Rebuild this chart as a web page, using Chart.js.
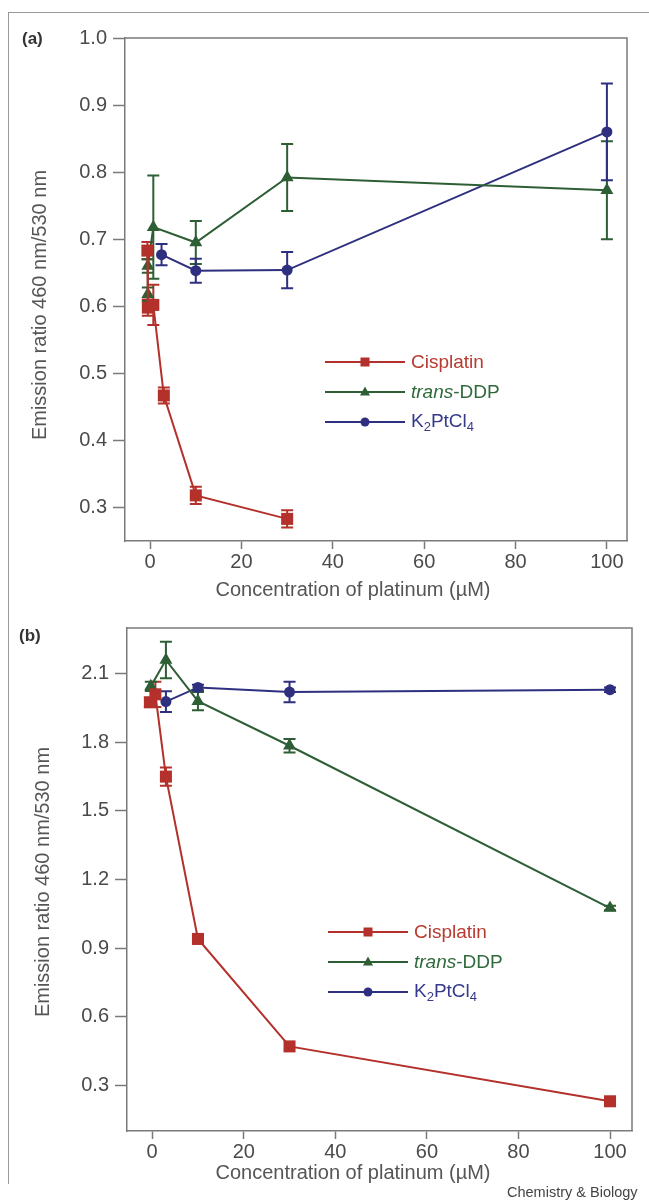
<!DOCTYPE html>
<html>
<head>
<meta charset="utf-8">
<script src="https://cdn.jsdelivr.net/npm/chart.js@4.4.1/dist/chart.umd.min.js"></script>
<style>
  body { margin: 0; background: #fff; font-family: "Liberation Sans", Arial, sans-serif; }
  #page { position: relative; width: 649px; height: 1203px; overflow: hidden; }
  canvas { position: absolute; left: 0; }
  .frameTop { position: absolute; left: 8px; top: 12px; width: 641px; height: 0; border-top: 1.5px solid #9a9a9a; }
  .frameLeft { position: absolute; left: 8px; top: 12px; width: 0; height: 1172px; border-left: 1.5px solid #9a9a9a; }
  .panel { position: absolute; font-weight: bold; font-size: 17px; color: #333; }
  .ytitle { position: absolute; font-size: 20px; color: #555; white-space: nowrap;
            transform: translate(-50%, -50%) rotate(-90deg); }
  .xtitle { position: absolute; font-size: 20px; color: #555; white-space: nowrap;
            transform: translate(-50%, -50%); }
  .legend { position: absolute; font-size: 19px; }
  .legend .row { height: 30px; display: flex; align-items: center; }
  .legend svg { margin-right: 6px; }
  .legend sub { font-size: 13px; vertical-align: -4px; }
  .credit { position: absolute; left: 507px; top: 1184px; font-size: 14.5px; color: #444; }
</style>
</head>
<body>
<div id="page">
  <div class="frameTop"></div>
  <div class="frameLeft"></div>
  <canvas id="chartA" width="649" height="610" style="top:0"></canvas>
  <canvas id="chartB" width="649" height="603" style="top:600px"></canvas>

  <div class="panel" style="left:22px; top:29px">(a)</div>
  <div class="panel" style="left:19px; top:626px">(b)</div>
  <div class="ytitle" style="left:39px; top:305px">Emission ratio 460 nm/530 nm</div>
  <div class="ytitle" style="left:42px; top:882px">Emission ratio 460 nm/530 nm</div>
  <div class="xtitle" style="left:353px; top:589px">Concentration of platinum (&micro;M)</div>
  <div class="xtitle" style="left:353px; top:1172px">Concentration of platinum (&micro;M)</div>

  <div class="legend" id="legendA" style="left:325px; top:347px"></div>
  <div class="legend" id="legendB" style="left:328px; top:917px"></div>

  <div class="credit">Chemistry &amp; Biology</div>
</div>

<script>
// Series names and colours
const seriesNames = ['Cisplatin', 'trans-DDP', 'K2PtCl4'];
const lineColors = ['#b3312a', '#2d5e34', '#2f2f80'];
const textColors = ['#b83a30', '#2f6a3a', '#34398a'];

// Panel (a) - concentration (uM), emission ratio, error
const cisA_x = [-0.6, -0.5, 0.7, 3, 10, 30];
const cisA_y = [0.683, 0.598, 0.602, 0.467, 0.318, 0.283];
const cisA_err = [0.013, 0.012, 0.03, 0.012, 0.013, 0.013];

const transA_x = [-0.5, -0.5, 0.7, 10, 30, 100];
const transA_y = [0.618, 0.66, 0.718, 0.695, 0.792, 0.773];
const transA_err = [0.01, 0.01, 0.077, 0.032, 0.05, 0.073];

const k2A_x = [2.5, 10, 30, 100];
const k2A_y = [0.677, 0.653, 0.654, 0.86];
const k2A_err = [0.016, 0.018, 0.027, 0.072];

// Panel (b)
const cisB_x = [-0.5, 0.7, 3, 10, 30, 100];
const cisB_y = [1.975, 2.01, 1.65, 0.94, 0.47, 0.23];
const cisB_err = [0.02, 0.055, 0.04, 0, 0, 0];

const transB_x = [-0.3, 3, 10, 30, 100];
const transB_y = [2.045, 2.16, 1.98, 1.785, 1.075];
const transB_err = [0.02, 0.08, 0.04, 0.03, 0.01];

const k2B_x = [3, 10, 30, 100];
const k2B_y = [1.978, 2.04, 2.02, 2.03];
const k2B_err = [0.045, 0.012, 0.045, 0.01];

// Tick labels
const xTicks = [0, 20, 40, 60, 80, 100];
const yTicksA = [0.3, 0.4, 0.5, 0.6, 0.7, 0.8, 0.9, 1.0];
const yTicksB = [0.3, 0.6, 0.9, 1.2, 1.5, 1.8, 2.1];

const pointStyles = ['rect', 'triangle', 'circle'];
const pointRadii = [8.5, 7.5, 5.5];

function makeDataset(i, xs, ys, errs) {
    return {
        label: seriesNames[i],
        data: xs.map((x, k) => ({ x: x, y: ys[k] })),
        errors: errs,
        showLine: true,
        borderColor: lineColors[i],
        backgroundColor: lineColors[i],
        borderWidth: 2,
        pointStyle: pointStyles[i],
        pointRadius: pointRadii[i],
        pointBorderWidth: 0,
        tension: 0
    };
}

// Vertical error bars with caps, drawn under the markers
const errorBars = {
    id: 'errorBars',
    beforeDatasetsDraw(chart) {
        const ctx = chart.ctx;
        const yScale = chart.scales.y;
        chart.data.datasets.forEach((ds, i) => {
            const meta = chart.getDatasetMeta(i);
            ctx.save();
            ctx.strokeStyle = ds.borderColor;
            ctx.lineWidth = 2;
            meta.data.forEach((pt, k) => {
                const e = ds.errors[k];
                if (!e) return;
                const v = ds.data[k].y;
                const top = yScale.getPixelForValue(v + e);
                const bot = yScale.getPixelForValue(v - e);
                ctx.beginPath();
                ctx.moveTo(pt.x, top);
                ctx.lineTo(pt.x, bot);
                ctx.moveTo(pt.x - 6, top);
                ctx.lineTo(pt.x + 6, top);
                ctx.moveTo(pt.x - 6, bot);
                ctx.lineTo(pt.x + 6, bot);
                ctx.stroke();
            });
            ctx.restore();
        });
    }
};

// Top and right edges of the plot box
const boxFrame = {
    id: 'boxFrame',
    afterDraw(chart) {
        const { ctx, chartArea: a } = chart;
        ctx.save();
        ctx.strokeStyle = '#7a7a7a';
        ctx.lineWidth = 1.5;
        ctx.beginPath();
        ctx.moveTo(a.left, a.top);
        ctx.lineTo(a.right, a.top);
        ctx.lineTo(a.right, a.bottom);
        ctx.stroke();
        ctx.restore();
    }
};

function makeChart(id, datasets, opts) {
    const tickFont = { family: '"Liberation Sans", Arial, sans-serif', size: 20 };
    return new Chart(document.getElementById(id), {
        type: 'scatter',
        data: { datasets: datasets },
        plugins: [errorBars, boxFrame],
        options: {
            responsive: false,
            animation: false,
            layout: { padding: { top: opts.top, right: opts.right, left: 0, bottom: 0 } },
            plugins: { legend: { display: false }, tooltip: { enabled: false } },
            scales: {
                x: {
                    type: 'linear',
                    min: opts.xMin,
                    max: opts.xMax,
                    afterBuildTicks: axis => { axis.ticks = xTicks.map(v => ({ value: v })); },
                    afterFit: axis => { axis.height = opts.xHeight; },
                    ticks: { font: tickFont, color: '#4a4a4a', padding: 1, maxRotation: 0 },
                    grid: { drawOnChartArea: false, tickLength: 8, tickColor: '#7a7a7a', tickWidth: 1.5 },
                    border: { display: true, color: '#7a7a7a', width: 1.5 }
                },
                y: {
                    type: 'linear',
                    min: opts.yMin,
                    max: opts.yMax,
                    afterBuildTicks: axis => { axis.ticks = opts.yTicks.map(v => ({ value: v })); },
                    afterFit: axis => { axis.width = opts.yWidth; },
                    ticks: { font: tickFont, color: '#4a4a4a', padding: 6, callback: v => v.toFixed(1) },
                    grid: { drawOnChartArea: false, tickLength: 12, tickColor: '#7a7a7a', tickWidth: 1.5 },
                    border: { display: true, color: '#7a7a7a', width: 1.5 }
                }
            }
        }
    });
}

makeChart('chartA', [
    makeDataset(0, cisA_x, cisA_y, cisA_err),
    makeDataset(1, transA_x, transA_y, transA_err),
    makeDataset(2, k2A_x, k2A_y, k2A_err)
], { top: 38, right: 22, xMin: -5.5, xMax: 104.4, yMin: 0.25, yMax: 1.0,
     yTicks: yTicksA, yWidth: 125, xHeight: 69 });

makeChart('chartB', [
    makeDataset(0, cisB_x, cisB_y, cisB_err),
    makeDataset(1, transB_x, transB_y, transB_err),
    makeDataset(2, k2B_x, k2B_y, k2B_err)
], { top: 28, right: 17, xMin: -5.5, xMax: 104.8, yMin: 0.1, yMax: 2.3,
     yTicks: yTicksB, yWidth: 127, xHeight: 72 });

// HTML legends with line + marker samples
const legendLabels = ['Cisplatin', '<i>trans</i>-DDP', 'K<sub>2</sub>PtCl<sub>4</sub>'];
function markerSvg(i) {
    const c = lineColors[i];
    let m;
    if (i === 0) m = `<rect x="35.5" y="10.5" width="9" height="9" fill="${c}"/>`;
    else if (i === 1) m = `<polygon points="40,9.5 45,18.5 35,18.5" fill="${c}"/>`;
    else m = `<circle cx="40" cy="15" r="4.5" fill="${c}"/>`;
    return `<svg width="80" height="30"><line x1="0" y1="15" x2="80" y2="15" stroke="${c}" stroke-width="2"/>${m}</svg>`;
}
['legendA', 'legendB'].forEach(id => {
    document.getElementById(id).innerHTML = legendLabels.map((lab, i) =>
        `<div class="row">${markerSvg(i)}<span style="color:${textColors[i]}">${lab}</span></div>`
    ).join('');
});
</script>
</body>
</html>
